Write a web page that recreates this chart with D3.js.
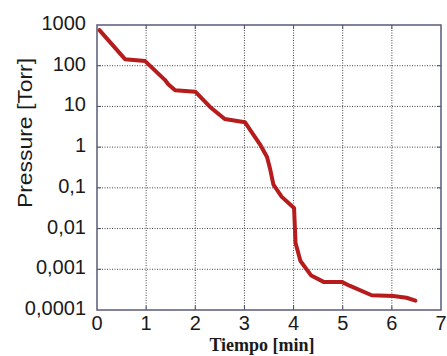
<!DOCTYPE html>
<html><head><meta charset="utf-8">
<script src="https://cdn.jsdelivr.net/npm/d3@7"></script>
<style>body{margin:0;background:#fff}svg{display:block}</style>
</head><body>
<svg id="c" width="447" height="356"></svg>
<script>
const time = [0.05, 0.57, 0.98, 1.38, 1.45, 1.59, 2.0, 2.3, 2.6, 3.01, 3.15, 3.33, 3.46, 3.52, 3.59, 3.76, 4.01, 4.04, 4.14, 4.36, 4.61, 4.98, 5.15, 5.59, 6.03, 6.3, 6.48];
const pressure = [750, 145, 130, 45, 35, 25, 23, 9.7, 4.9, 4.1, 2.3, 1.1, 0.57, 0.3, 0.12, 0.06, 0.032, 0.0044, 0.0016, 0.0007, 0.00049, 0.00049, 0.00039, 0.00023, 0.00022, 0.0002, 0.00017];
const xTicks = [0, 1, 2, 3, 4, 5, 6, 7];
const yTicks = [1000, 100, 10, 1, 0.1, 0.01, 0.001, 0.0001];
const yTickLabels = ["1000", "100", "10", "1", "0,1", "0,01", "0,001", "0,0001"];

const svg = d3.select("#c");
const L = 97, R = 441, T = 25, B = 310;
const x = d3.scaleLinear().domain([0, 7]).range([L, R]);
const y = d3.scaleLog().domain([0.0001, 1000]).range([B, T]);

// grid
const grid = svg.append("g");
grid.selectAll(".gx").data(xTicks.slice(1, -1)).enter().append("line")
  .attr("x1", d => x(d)).attr("x2", d => x(d)).attr("y1", T).attr("y2", B)
  .attr("stroke", "#444").attr("stroke-width", 1).attr("stroke-dasharray", "1,1.5");
grid.selectAll(".gy").data(yTicks.slice(1, -1)).enter().append("line")
  .attr("y1", d => y(d)).attr("y2", d => y(d)).attr("x1", L).attr("x2", R)
  .attr("stroke", "#444").attr("stroke-width", 1).attr("stroke-dasharray", "1,1.5");

// inner ticks
const tk = svg.append("g").attr("stroke", "#4a4a66").attr("stroke-width", 1);
xTicks.slice(1, -1).forEach(d => {
  tk.append("line").attr("x1", x(d)).attr("x2", x(d)).attr("y1", B).attr("y2", B - 4);
  tk.append("line").attr("x1", x(d)).attr("x2", x(d)).attr("y1", T).attr("y2", T + 4);
});
yTicks.slice(1, -1).forEach(d => {
  tk.append("line").attr("y1", y(d)).attr("y2", y(d)).attr("x1", L).attr("x2", L + 4);
  tk.append("line").attr("y1", y(d)).attr("y2", y(d)).attr("x1", R).attr("x2", R - 4);
});

// curve
const line = d3.line().x((d, i) => x(time[i])).y(d => y(d));
svg.append("path").datum(pressure).attr("d", line)
  .attr("fill", "none").attr("stroke", "#b71c1c").attr("stroke-width", 4)
  .attr("stroke-linejoin", "round").attr("stroke-linecap", "round");

// frame
svg.append("rect").attr("x", L).attr("y", T).attr("width", R - L).attr("height", B - T)
  .attr("fill", "none").attr("stroke", "#5a5a78").attr("stroke-width", 1.5);

// tick labels
svg.selectAll(".xl").data(xTicks).enter().append("text")
  .attr("x", d => x(d)).attr("y", 330).attr("text-anchor", "middle")
  .attr("font-family", "'Liberation Sans', Arial, sans-serif").attr("font-size", 20)
  .attr("fill", "#1a1a1a").text(d => d);
svg.selectAll(".yl").data(yTicks).enter().append("text")
  .attr("x", 86).attr("y", d => y(d) + 5).attr("text-anchor", "end")
  .attr("font-family", "'Liberation Sans', Arial, sans-serif").attr("font-size", 20)
  .attr("fill", "#1a1a1a").text((d, i) => yTickLabels[i]);

// axis titles
svg.append("text").attr("transform", "translate(32,133) rotate(-90)")
  .attr("text-anchor", "middle").attr("font-family", "'Liberation Sans', Arial, sans-serif")
  .attr("font-size", 20).attr("fill", "#1a1a1a")
  .attr("textLength", 150).attr("lengthAdjust", "spacingAndGlyphs").text("Pressure [Torr]");
svg.append("text").attr("x", 262).attr("y", 351).attr("text-anchor", "middle")
  .attr("font-family", "'Liberation Serif', 'Times New Roman', serif").attr("font-weight", "bold")
  .attr("font-size", 18).attr("fill", "#1a1a1a").text("Tiempo [min]");
</script>
</body></html>
